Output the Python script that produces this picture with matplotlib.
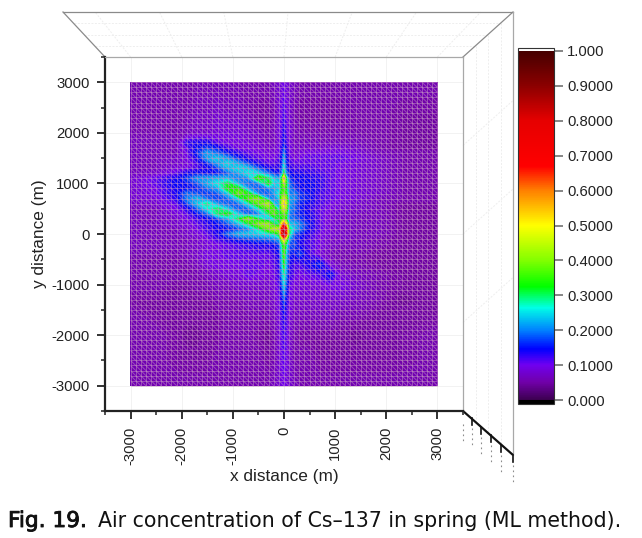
import numpy as np
import matplotlib
matplotlib.use('Agg')
import matplotlib.pyplot as plt
import matplotlib.patheffects as pe
from matplotlib.collections import LineCollection
from matplotlib.colors import LinearSegmentedColormap, Normalize
from matplotlib.cm import ScalarMappable

plt.rcParams['font.family'] = ['Liberation Sans', 'DejaVu Sans']
plt.rcParams['axes.unicode_minus'] = False

# ================= data =================
x_nodes = [-3000, -2500, -2100, -1900, -1700, -1500, -1300, -1100, -900, -700, -500, -300, -200, -100,
           -40, 0, 40, 100, 200, 300, 500, 700, 900, 1100, 1400, 1800, 2300, 3000]
y_nodes = [3000, 2400, 2000, 1800, 1700, 1600, 1500, 1400, 1300, 1200, 1100, 1000, 900, 800, 700, 600, 500,
           400, 300, 200, 100, 0, -100, -200, -400, -600, -800, -1000, -1300, -1600, -2000, -2500, -3000]

# concentration x 100, one row per y node
conc_pct = [
    [6, 6, 6, 6, 6, 6, 6, 6, 6, 6, 6, 6, 7, 8, 9, 10, 9, 8, 7, 6, 6, 6, 6, 6, 6, 6, 6, 6],
    [6, 6, 6, 6, 7, 7, 8, 7, 7, 6, 5, 5, 6, 8, 10, 12, 10, 8, 6, 5, 5, 5, 5, 5, 6, 6, 5, 5],
    [6, 6, 6, 7, 8, 8, 9, 9, 9, 8, 7, 6, 7, 9, 11, 14, 11, 9, 7, 6, 6, 6, 6, 6, 6, 6, 5, 5],
    [7, 7, 7, 13, 14, 14, 11, 10, 10, 9, 8, 7, 7, 9, 12, 15, 12, 9, 7, 7, 7, 7, 7, 7, 7, 6, 5, 5],
    [7, 7, 7, 11, 15, 17, 15, 12, 10, 10, 9, 8, 8, 10, 13, 17, 13, 10, 8, 8, 8, 8, 9, 9, 8, 6, 5, 5],
    [7, 7, 7, 10, 16, 22, 19, 15, 13, 11, 10, 9, 9, 10, 14, 20, 14, 10, 8, 9, 10, 10, 10, 10, 9, 7, 6, 6],
    [7, 7, 8, 10, 14, 22, 24, 21, 16, 13, 11, 10, 10, 11, 15, 22, 15, 11, 9, 10, 11, 11, 11, 11, 10, 8, 6, 6],
    [7, 7, 8, 9, 12, 16, 22, 25, 22, 17, 13, 11, 11, 12, 16, 24, 16, 12, 11, 11, 11, 11, 11, 10, 9, 8, 6, 6],
    [7, 7, 9, 10, 12, 14, 17, 23, 25, 24, 18, 14, 13, 13, 18, 26, 18, 13, 12, 12, 12, 11, 11, 10, 9, 8, 6, 6],
    [7, 8, 11, 14, 15, 15, 15, 18, 22, 26, 25, 19, 16, 15, 20, 32, 20, 15, 14, 14, 13, 12, 11, 10, 9, 8, 6, 6],
    [8, 11, 14, 17, 21, 22, 23, 23, 20, 21, 36, 30, 24, 22, 32, 56, 32, 17, 15, 15, 14, 13, 11, 10, 9, 8, 6, 6],
    [8, 11, 15, 15, 18, 23, 26, 31, 23, 18, 20, 33, 25, 25, 33, 42, 33, 19, 16, 15, 15, 13, 11, 10, 9, 8, 6, 6],
    [8, 10, 14, 15, 16, 19, 22, 33, 34, 22, 18, 20, 22, 24, 32, 36, 32, 20, 17, 15, 15, 13, 11, 10, 9, 8, 6, 6],
    [8, 10, 14, 19, 18, 17, 18, 24, 38, 33, 20, 18, 22, 26, 34, 38, 34, 20, 20, 17, 15, 12, 11, 10, 9, 8, 6, 6],
    [8, 9, 13, 20, 23, 19, 17, 19, 25, 36, 40, 22, 19, 24, 40, 46, 40, 22, 21, 17, 15, 12, 11, 10, 9, 7, 6, 6],
    [7, 8, 11, 17, 24, 29, 21, 18, 19, 26, 37, 44, 25, 21, 44, 52, 44, 22, 19, 16, 14, 12, 10, 9, 8, 7, 5, 5],
    [7, 7, 10, 13, 18, 26, 30, 24, 18, 19, 26, 36, 36, 24, 40, 46, 40, 21, 19, 16, 13, 11, 10, 9, 8, 7, 5, 5],
    [7, 7, 9, 11, 15, 19, 30, 33, 24, 18, 20, 30, 38, 30, 34, 38, 34, 20, 18, 16, 14, 11, 9, 8, 7, 7, 5, 5],
    [7, 7, 8, 10, 12, 14, 17, 22, 30, 40, 30, 22, 26, 32, 32, 36, 32, 20, 19, 17, 14, 11, 9, 8, 7, 7, 5, 5],
    [7, 7, 8, 9, 11, 13, 15, 18, 23, 30, 40, 42, 30, 28, 50, 62, 50, 24, 23, 20, 15, 11, 9, 8, 7, 7, 5, 5],
    [7, 7, 7, 8, 10, 12, 14, 15, 17, 20, 28, 38, 44, 42, 68, 82, 68, 30, 24, 20, 14, 11, 9, 8, 7, 7, 5, 5],
    [7, 7, 7, 8, 9, 11, 14, 19, 23, 24, 25, 26, 27, 32, 70, 85, 70, 30, 18, 16, 13, 10, 9, 8, 7, 7, 5, 5],
    [7, 7, 7, 7, 8, 10, 12, 14, 16, 17, 18, 19, 20, 22, 40, 55, 40, 22, 17, 15, 12, 10, 8, 8, 7, 6, 5, 5],
    [7, 7, 7, 7, 8, 9, 10, 11, 12, 13, 14, 14, 15, 17, 28, 36, 30, 18, 18, 14, 12, 10, 8, 7, 7, 6, 5, 5],
    [6, 6, 6, 7, 8, 10, 10, 11, 11, 11, 11, 11, 12, 14, 24, 36, 24, 16, 15, 17, 12, 9, 7, 6, 6, 5, 5, 5],
    [6, 6, 6, 6, 7, 9, 10, 10, 10, 11, 11, 10, 11, 13, 23, 32, 23, 14, 12, 12, 14, 16, 9, 7, 6, 5, 5, 5],
    [6, 6, 6, 6, 6, 7, 8, 9, 9, 11, 10, 9, 10, 12, 21, 28, 21, 13, 11, 10, 11, 12, 15, 9, 7, 6, 5, 5],
    [6, 6, 5, 5, 6, 6, 7, 7, 8, 8, 8, 8, 9, 11, 18, 25, 18, 11, 9, 9, 9, 9, 10, 10, 8, 6, 5, 5],
    [5, 5, 5, 5, 5, 5, 6, 6, 6, 7, 7, 7, 8, 10, 14, 18, 14, 10, 8, 8, 8, 8, 8, 8, 7, 6, 4, 5],
    [6, 5, 5, 5, 5, 5, 5, 6, 6, 6, 6, 6, 7, 9, 12, 14, 12, 9, 7, 7, 7, 7, 7, 6, 6, 5, 5, 5],
    [6, 6, 5, 4, 4, 5, 5, 6, 6, 6, 5, 4, 6, 8, 11, 12, 11, 8, 6, 5, 5, 5, 5, 5, 4, 5, 5, 6],
    [6, 6, 5, 5, 5, 5, 6, 6, 6, 6, 6, 5, 6, 8, 10, 11, 10, 8, 6, 6, 6, 5, 5, 5, 5, 5, 5, 6],
    [6, 6, 6, 6, 6, 6, 6, 6, 6, 6, 6, 6, 7, 8, 9, 10, 9, 8, 7, 6, 6, 6, 6, 6, 6, 6, 6, 6],
]

axis_ticks = [-3000, -2000, -1000, 0, 1000, 2000, 3000]
minor_ticks = [-3500, -2500, -1500, -500, 500, 1500, 2500, 3500]
cbar_ticks = [0.0, 0.1, 0.2, 0.3, 0.4, 0.5, 0.6, 0.7, 0.8, 0.9, 1.0]
cbar_labels = ['0.000', '0.1000', '0.2000', '0.3000', '0.4000', '0.5000',
               '0.6000', '0.7000', '0.8000', '0.9000', '1.000']

# colour stops of the legend (value, colour)
cmap_stops = [(0.0, '#3c0050'), (0.05, '#7000a8'), (0.10, '#7000f0'), (0.146, '#0000ff'),
              (0.20, '#0082ff'), (0.264, '#00ffe6'), (0.325, '#00ff00'), (0.40, '#82ff00'),
              (0.50, '#ffff00'), (0.60, '#ff8000'), (0.67, '#ff0000'), (0.80, '#e60000'),
              (0.90, '#8c0000'), (1.0, '#460000')]

W, H = 642, 538
cmap = LinearSegmentedColormap.from_list('legend', cmap_stops, N=512)
cmap.set_over('white')
cmap.set_under('black')
norm = Normalize(0, 1)

fig = plt.figure(figsize=(W / 100, H / 100), dpi=100)


def px_axes(left, top, right, bottom):
    # axes rectangle given in picture pixels
    return fig.add_axes([left / W, 1 - bottom / H, (right - left) / W, (bottom - top) / H])


# ================= 3D box behind the plot =================
box = fig.add_axes([0, 0, 1, 1], zorder=0)
box.set_xlim(0, W)
box.set_ylim(H, 0)
box.axis('off')

fx0, fx1, fy0, fy1 = 105, 463, 57, 411     # front frame
bx0, bx1, by0 = 63, 513, 12                # back frame
pale = dict(color='#eeeeee', lw=0.7, ls=(0, (2, 1.5)))
to_px = lambda v: fx0 + (v + 3500) / 7000 * (fx1 - fx0)
for t in axis_ticks:
    box.plot([to_px(t), bx0 + (to_px(t) - fx0) * (bx1 - bx0) / (fx1 - fx0)], [fy0, by0], **pale)
for f in [0.25, 0.5, 0.75]:
    yy = by0 + f * (fy0 - by0)
    box.plot([bx0 + f * (fx0 - bx0), bx1 + f * (fx1 - bx1)], [yy, yy], **pale)
    xx = fx1 + f * (bx1 - fx1)
    box.plot([xx, xx], [fy0 - f * (fy0 - by0), fy1 + f * 44], **pale)
    box.plot([fx1, bx1], [fy0 + f * (fy1 - fy0), by0 + f * (fy1 - fy0)], **pale)

box.plot([bx0, bx1], [by0, by0], color='#8a8a8a', lw=0.9)
box.plot([bx0, fx0], [by0, fy0], color='#8a8a8a', lw=0.9)
box.plot([bx1, fx1], [by0, fy0], color='#8a8a8a', lw=0.9)
box.plot([bx1, bx1], [by0, 455], color='#a8a8a8', lw=0.9)

# diagonal axis bottom right, its labels are only specks in the reference
box.plot([fx1, bx1], [fy1, 455], color='#111111', lw=1.6, solid_capstyle='butt')
for dx, dy in zip([472, 481, 491, 501, 513], [418, 427, 435, 445, 455]):
    box.plot([dx, dx], [dy, dy + 7], color='#111111', lw=1.2)
    box.plot([dx, dx], [dy + 10, dy + 30], color='#8c8c8c', lw=0.8, ls=(0, (1.5, 3)))
box.plot([463, 463], [424, 444], color='#8c8c8c', lw=0.8, ls=(0, (1.5, 3)))

# ================= main contour plot =================
ax = px_axes(fx0, fy0, fx1, fy1)
ax.set_zorder(1)
ax.patch.set_alpha(0)
conc = np.array(conc_pct) / 100
ax.contourf(x_nodes, y_nodes, conc, levels=np.linspace(0, 1, 201), cmap=cmap, norm=norm, zorder=2)

# triangular mesh drawn over the surface
mesh = np.arange(-3000, 3001, 100)
segs = []
for m in mesh:
    segs.append([(m, -3000), (m, 3000)])
    segs.append([(-3000, m), (3000, m)])
for a, b in zip(mesh[:-1], mesh[1:]):
    for c, d in zip(mesh[:-1], mesh[1:]):
        segs.append([(a, d), (b, c)])
ax.add_collection(LineCollection(segs, colors='#c898c4', linewidths=0.7, alpha=0.5, zorder=3))

ax.set_xlim(-3500, 3500)
ax.set_ylim(-3500, 3500)
ax.set_xticks(axis_ticks)
ax.set_yticks(axis_ticks)
ax.set_xticks(minor_ticks, minor=True)
ax.set_yticks(minor_ticks, minor=True)
ax.tick_params(which='major', length=6, width=1.3, color='#222222', labelsize=10.7, labelcolor='#222222', pad=5)
ax.tick_params(which='minor', length=3, width=1.1, color='#222222')
ax.tick_params(axis='x', labelrotation=90)
ax.grid(True, color='#f2f2f2', lw=0.7, zorder=1)
ax.set_axisbelow(True)
for side in ['left', 'bottom']:
    ax.spines[side].set_linewidth(1.6)
    ax.spines[side].set_color('#222222')
for side in ['top', 'right']:
    ax.spines[side].set_linewidth(0.9)
    ax.spines[side].set_color('#a8a8a8')
ax.set_xlabel('x distance (m)', fontsize=12.4, color='#222222')
ax.set_ylabel('y distance (m)', fontsize=12.4, color='#222222')
ax.xaxis.set_label_coords(0.5, (411 - 469) / 354)
ax.yaxis.set_label_coords((47 - 105) / 358, 0.5)

# ================= colour legend =================
cax = px_axes(518, 48, 554, 404)
cb = fig.colorbar(ScalarMappable(norm=norm, cmap=cmap), cax=cax, extend='both', extendrect=True,
                  extendfrac=(4 / 356, 3 / 356), ticks=cbar_ticks)
cb.ax.set_yticklabels(cbar_labels)
cb.ax.tick_params(length=6.5, width=1.1, color='#666666', labelsize=10.7, labelcolor='#222222', pad=3)
cb.outline.set_linewidth(0.8)
cb.outline.set_edgecolor('#333333')

# ================= caption =================
fig.text(8 / W, 1 - 521 / H, 'Fig. 19.', fontsize=15.6, family='DejaVu Sans', va='center', color='#111111',
         path_effects=[pe.withStroke(linewidth=0.6, foreground='#111111')])
fig.text(98 / W, 1 - 521 / H, 'Air concentration of Cs\u2013137 in spring (ML method).', fontsize=14.8,
         family='DejaVu Sans', va='center', color='#111111')

fig.savefig('out.png', dpi=100)
